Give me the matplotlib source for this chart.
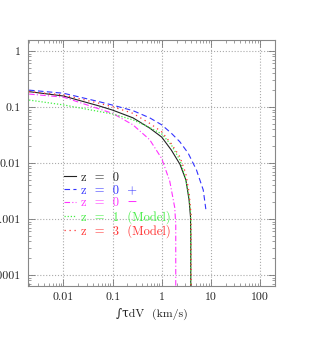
import matplotlib
matplotlib.use('Agg')
import matplotlib.pyplot as plt
from matplotlib import ticker

# curves (x = integrated tau dV in km/s, y = fraction)
x_z0 = [0.002, 0.01, 0.054, 0.1, 0.26, 0.57, 1.0, 1.57, 2.35, 3.1, 3.6, 3.85, 3.9, 3.9]
y_z0 = [0.188, 0.157, 0.104, 0.088, 0.064, 0.042, 0.029, 0.017, 0.0095, 0.005, 0.0022, 0.0011, 0.0005, 1e-5]

x_z0p = [0.002, 0.01, 0.054, 0.1, 0.26, 0.57, 1.0, 1.57, 2.33, 3.45, 5.1, 7.0, 7.9]
y_z0p = [0.20, 0.176, 0.124, 0.108, 0.086, 0.064, 0.048, 0.034, 0.024, 0.015, 0.0075, 0.0033, 0.0015]

x_z0m = [0.002, 0.01, 0.1, 0.26, 0.57, 1.0, 1.46, 1.84, 1.93, 1.93]
y_z0m = [0.17, 0.15, 0.077, 0.048, 0.026, 0.012, 0.0047, 0.0016, 0.0008, 1e-5]

x_z1 = [0.002, 0.01, 0.1, 0.26, 0.57, 1.0, 1.57, 2.33, 3.0, 3.6, 3.9, 3.9]
y_z1 = [0.133, 0.109, 0.075, 0.059, 0.043, 0.033, 0.021, 0.0114, 0.0057, 0.0025, 0.0012, 1e-5]

x_z3 = [0.002, 0.01, 0.054, 0.1, 0.26, 0.57, 1.0, 1.57, 2.33, 3.09, 3.6, 3.95, 3.95]
y_z3 = [0.188, 0.164, 0.116, 0.101, 0.077, 0.051, 0.036, 0.022, 0.013, 0.0065, 0.003, 0.0012, 1e-5]

labels = ['z  =  0', 'z  =  0  +', 'z  =  0  \u2212', 'z  =  1  (Model)', 'z  =  3  (Model)']
colors = ['#222222', '#3333ff', '#ff33ff', '#44ee44', '#ff3333']

plt.rcParams['font.family'] = ['cmr10', 'DejaVu Serif']
plt.rcParams['axes.formatter.use_mathtext'] = True

fig = plt.figure(figsize=(3.14, 3.44), dpi=100)
ax = fig.add_axes([28 / 314, 1 - 286 / 344, 247 / 314, 246 / 344])

ax.plot(x_z0, y_z0, color=colors[0], lw=0.8, ls='-', label=labels[0])
ax.plot(x_z0p, y_z0p, color=colors[1], lw=0.8, ls=(0, (5, 3)), label=labels[1])
ax.plot(x_z0m, y_z0m, color=colors[2], lw=0.8, ls=(0, (5, 2, 1, 2)), label=labels[2])
ax.plot(x_z1, y_z1, color=colors[3], lw=0.9, ls=(0, (1, 1.5)), label=labels[3])
ax.plot(x_z3, y_z3, color=colors[4], lw=0.9, ls=(0, (1, 3)), label=labels[4])

ax.set_xscale('log')
ax.set_yscale('log')
ax.set_xlim(0.0019, 202)
ax.set_ylim(10 ** -4.196, 10 ** 0.196)

fmt = ticker.FuncFormatter(lambda v, p: '%g' % v)
ax.xaxis.set_major_locator(ticker.FixedLocator([0.01, 0.1, 1, 10, 100]))
ax.yaxis.set_major_locator(ticker.FixedLocator([0.0001, 0.001, 0.01, 0.1, 1]))
ax.xaxis.set_major_formatter(fmt)
ax.yaxis.set_major_formatter(fmt)
ax.xaxis.set_minor_locator(ticker.LogLocator(subs=range(2, 10), numticks=20))
ax.yaxis.set_minor_locator(ticker.LogLocator(subs=range(2, 10), numticks=20))
ax.xaxis.set_minor_formatter(ticker.NullFormatter())
ax.yaxis.set_minor_formatter(ticker.NullFormatter())

ax.tick_params(which='both', direction='in', top=True, right=True, color='#777777',
               labelsize=8.5, labelcolor='#222222')
ax.tick_params(which='major', length=5, width=0.6, pad=5)
ax.tick_params(which='minor', length=2.5, width=0.5)
for s in ax.spines.values():
    s.set_color('#888888')
    s.set_linewidth(0.8)

ax.grid(True, which='major', color='#aaaaaa', ls=':', lw=0.8)

ax.set_xlabel('\u222b\u03c4dV  (km/s)', fontsize=8.5, color='#222222', labelpad=4)

leg = ax.legend(loc='center left', bbox_to_anchor=(0.1, 0.33), frameon=False,
                fontsize=9, handlelength=1.0, handletextpad=0.4, labelspacing=0.05)
for t, c in zip(leg.get_texts(), colors):
    t.set_color(c)

fig.savefig('out.png', dpi=100)
